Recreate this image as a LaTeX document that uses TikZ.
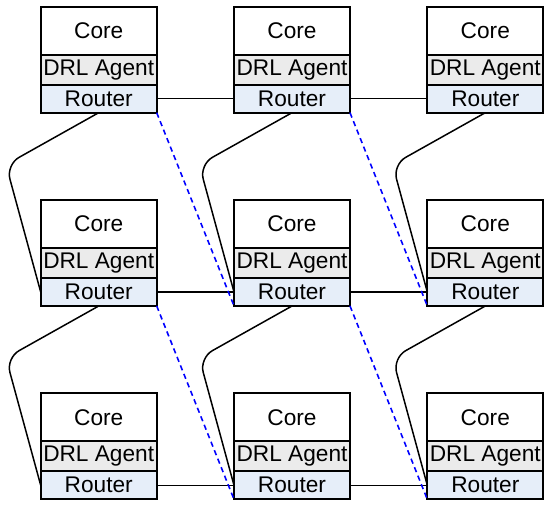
\documentclass[tikz,border=0pt]{standalone}
\usepackage{fontspec}
\setmainfont{Liberation Sans}
\usetikzlibrary{positioning}

\definecolor{agentgray}{HTML}{EBEBEB}
\definecolor{routerblue}{HTML}{E6EEF9}

\begin{document}
\begin{tikzpicture}[font=\fontsize{12.9}{14}\selectfont]
        % Styles
        \tikzstyle{corebox} = [draw, rectangle, outer sep=0pt, inner sep=1pt, minimum width=2.32cm, minimum height=0.96cm, line width=1.1pt, fill=white]
        \tikzstyle{agentbox} = [draw, rectangle, outer sep=0pt, inner sep=1pt, minimum width=2.32cm, minimum height=0.6cm, line width=1.1pt, fill=agentgray]
        \tikzstyle{routerbox} = [draw, rectangle, outer sep=0pt, inner sep=1pt, minimum width=2.32cm, minimum height=0.56cm, line width=1.1pt, fill=routerblue]
        \tikzstyle{link} = [line width=0.85pt]
        \tikzstyle{diag} = [line width=0.9pt, blue, dash pattern=on 3pt off 2.2pt]

        \useasboundingbox (0,0) rectangle (11,-10.14);

        % Nodes (row r, column c)
        \foreach \r in {1,2,3} {
            \foreach \c in {1,2,3} {
                \node[corebox] (core\r\c) at ({0.814+3.866*(\c-1)+1.16}, {-0.134-3.866*(\r-1)-0.48}) {Core};
                \node[agentbox, below=0pt of core\r\c] (agent\r\c) {DRL Agent};
                \node[routerbox, below=0pt of agent\r\c] (router\r\c) {Router};
            }
        }

        % Paths
        \foreach \r in {1,2,3} {
            \draw[link] (router\r1) -- (router\r2);
            \draw[link] (router\r2) -- (router\r3);
        }
        \foreach \r/\n in {1/2,2/3} {
            \foreach \c in {1,2,3} {
                \draw[link, rounded corners=0.3cm] (router\r\c.south) -- ++(-1.854,-1.04) -- (router\n\c.west);
            }
        }
        \foreach \r/\n in {1/2,2/3} {
            \draw[diag] (router\r1.south east) -- (router\n2.south west);
            \draw[diag] (router\r2.south east) -- (router\n3.south west);
        }
    \end{tikzpicture}
\end{document}
